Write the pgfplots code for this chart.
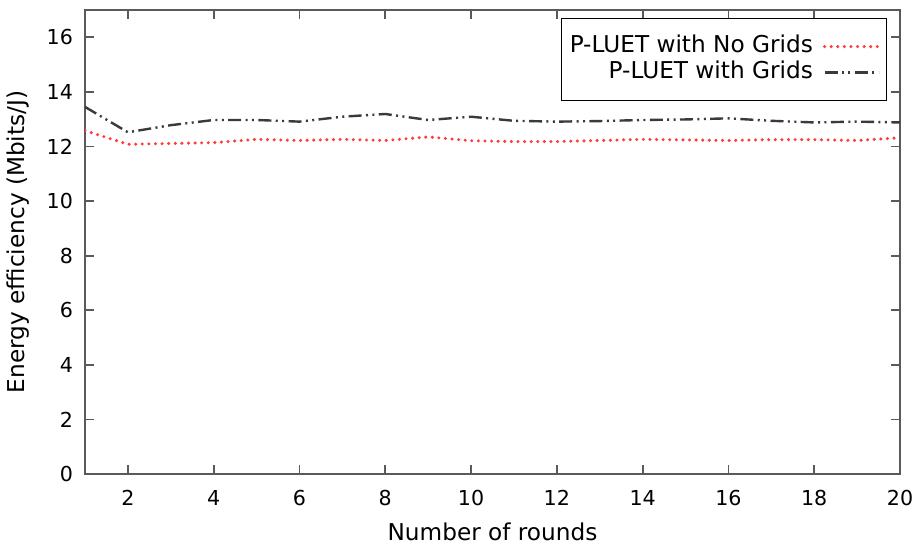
\documentclass[border=0pt]{standalone}
\usepackage{pgfplots}
\pgfplotsset{compat=1.18}
\usepackage{fontspec}
\setmainfont{DejaVu Sans}
\definecolor{redl}{HTML}{FF3B3B}
\definecolor{grayl}{HTML}{3A3A3A}
\definecolor{axc}{HTML}{5A5A5A}
\begin{document}
\begin{tikzpicture}
\begin{axis}[
  name=ax,
  scale only axis,
  width=407.5pt, height=232pt,
  xmin=1, xmax=20, ymin=0, ymax=17,
  xtick={2,4,...,20}, ytick={0,2,...,16},
  tick align=inside,
  major tick length=4.5pt,
  axis line style={axc, line width=0.9pt},
  every tick/.style={axc, line width=0.9pt},
  tick label style={font=\fontsize{10.3}{12}\selectfont},
  xticklabel style={yshift=-4.5pt},
  yticklabel style={xshift=-2.5pt},
  label style={font=\fontsize{11.6}{13}\selectfont},
  /pgf/number format/assume math mode=true,
  xlabel={Number of rounds},
  ylabel={Energy efficiency (Mbits/J)},
  xlabel style={at={(axis description cs:0.5,-0.125)}, anchor=center},
  ylabel style={at={(axis description cs:-0.0822,0.5)}, anchor=center},
  legend style={at={(rel axis cs:0.984,0.983)}, anchor=north east,
    font=\fontsize{11.6}{13}\selectfont, draw=black, line width=0.7pt,
    inner xsep=3pt, inner ysep=7.5pt, row sep=0pt, column sep=4pt,
    nodes={inner sep=1pt, text height=8.5pt, text depth=2.5pt},
    legend cell align=right},
  legend plot pos=right,
  legend image code/.code={\draw[#1] (0pt,0pt) -- (27pt,0pt);},
]
\addplot[redl, line width=1.7pt, line cap=round, dash pattern=on 0pt off 3.3pt] coordinates {
(1,12.58)(2,12.08)(3,12.11)(4,12.14)(5,12.26)(6,12.22)(7,12.26)(8,12.22)(9,12.35)(10,12.21)
(11,12.18)(12,12.18)(13,12.22)(14,12.26)(15,12.24)(16,12.22)(17,12.25)(18,12.25)(19,12.22)(20,12.32)};
\addlegendentry{P-LUET with No Grids}
\addplot[grayl, line width=1.2pt, dash pattern=on 6.5pt off 2.2pt on 1pt off 2.2pt on 1pt off 2.2pt] coordinates {
(1,13.45)(2,12.52)(3,12.78)(4,12.97)(5,12.97)(6,12.91)(7,13.09)(8,13.19)(9,12.97)(10,13.09)
(11,12.94)(12,12.91)(13,12.93)(14,12.97)(15,12.99)(16,13.03)(17,12.94)(18,12.88)(19,12.91)(20,12.88)};
\addlegendentry{P-LUET with Grids}
\end{axis}
\pgfresetboundingbox
\path[use as bounding box] ([shift={(-42.5pt,-35.5pt)}]ax.south west) rectangle ([shift={(10.5pt,5pt)}]ax.north east);
\end{tikzpicture}
\end{document}
